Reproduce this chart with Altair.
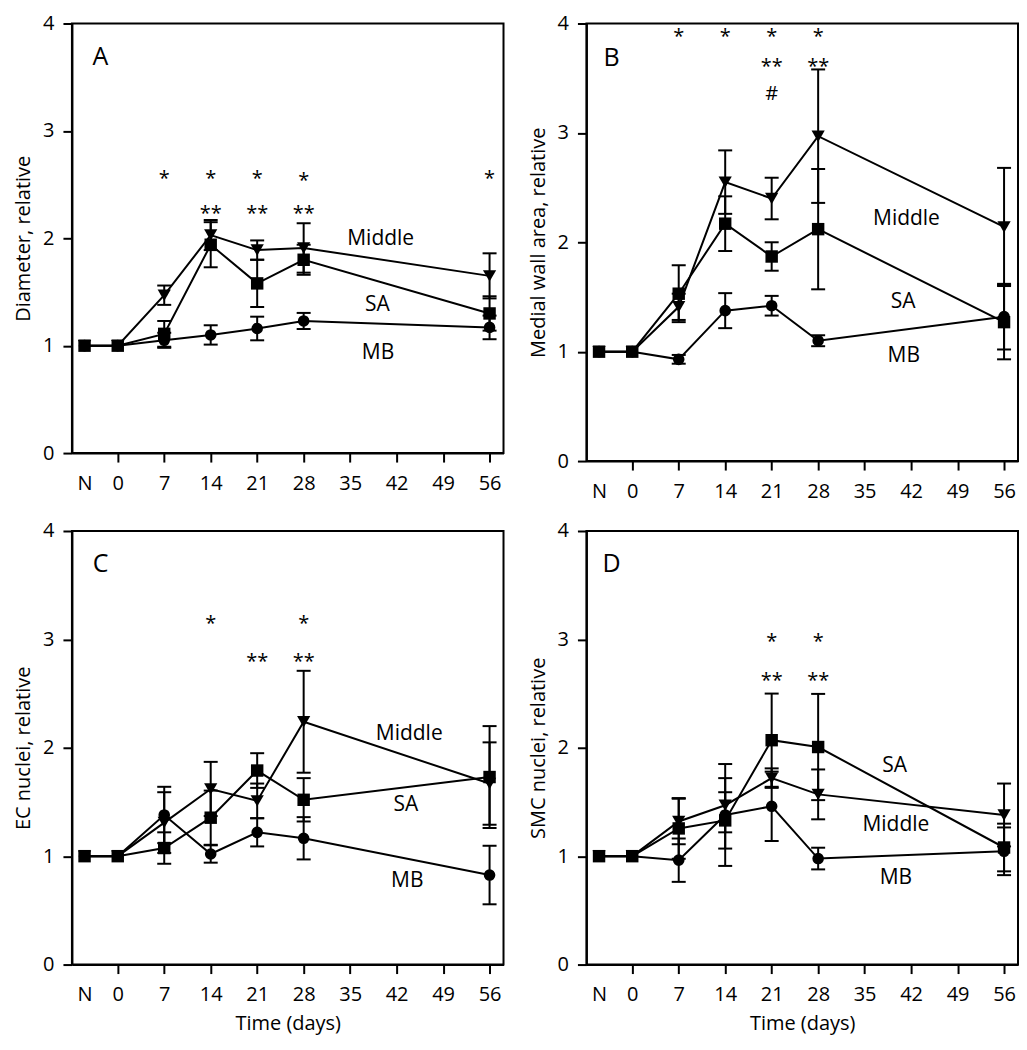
import altair as alt
import pandas as pd

# ---------------- data ----------------
X_DAYS = [-5, 0, 7, 14, 21, 28, 56]            # "N" (normal) is drawn at day -5
TICK_VALUES = [-5, 0, 7, 14, 21, 28, 35, 42, 49, 56]
GROUPS = ["Middle", "SA", "MB"]
SHAPES = ["triangle-down", "square", "circle"]
SIZES = [175, 135, 145]

# Panel A - Diameter
A_MID = [1.00, 1.00, 1.47, 2.03, 1.89, 1.91, 1.65]
A_MID_ERR = [0, 0, 0.09, 0.14, 0.09, 0.23, 0.21]
A_SA = [1.00, 1.00, 1.11, 1.94, 1.58, 1.80, 1.30]
A_SA_ERR = [0, 0, 0.12, 0.21, 0.22, 0.14, 0.16]
A_MB = [1.00, 1.00, 1.05, 1.10, 1.16, 1.23, 1.17]
A_MB_ERR = [0, 0, 0.07, 0.09, 0.11, 0.075, 0.11]
A_NOTE_TEXT = ["*", "*", "*", "*", "*", "**", "**", "**"]
A_NOTE_X = [7, 14, 21, 28, 56, 14, 21, 28]
A_NOTE_Y = [2.58, 2.58, 2.58, 2.56, 2.58, 2.25, 2.25, 2.25]
A_LABEL_X = [39.6, 39.1, 39.2]
A_LABEL_Y = [2.00, 1.39, 0.94]

# Panel B - Medial wall area
B_MID = [1.00, 1.00, 1.41, 2.55, 2.40, 2.97, 2.14]
B_MID_ERR = [0, 0, 0.12, 0.29, 0.19, 0.61, 0.54]
B_SA = [1.00, 1.00, 1.53, 2.17, 1.87, 2.12, 1.27]
B_SA_ERR = [0, 0, 0.26, 0.25, 0.13, 0.55, 0.34]
B_MB = [1.00, 1.00, 0.93, 1.375, 1.42, 1.10, 1.32]
B_MB_ERR = [0, 0, 0.04, 0.16, 0.09, 0.05, 0.30]
B_NOTE_TEXT = ["*", "*", "*", "*", "**", "**", "#"]
B_NOTE_X = [7, 14, 21, 28, 21, 28, 21]
B_NOTE_Y = [3.90, 3.90, 3.90, 3.90, 3.63, 3.63, 3.36]
B_LABEL_X = [41.3, 40.8, 40.9]
B_LABEL_Y = [2.22, 1.46, 0.965]

# Panel C - EC nuclei
C_MID = [1.00, 1.00, 1.31, 1.62, 1.51, 2.24, 1.67]
C_MID_ERR = [0, 0, 0.28, 0.25, 0.16, 0.47, 0.38]
C_SA = [1.00, 1.00, 1.075, 1.355, 1.79, 1.52, 1.73]
C_SA_ERR = [0, 0, 0.145, 0.25, 0.16, 0.20, 0.47]
C_MB = [1.00, 1.00, 1.38, 1.02, 1.22, 1.165, 0.826]
C_MB_ERR = [0, 0, 0.26, 0.08, 0.13, 0.195, 0.27]
C_NOTE_TEXT = ["*", "*", "**", "**"]
C_NOTE_X = [14, 28, 21, 28]
C_NOTE_Y = [3.17, 3.17, 2.82, 2.82]
C_LABEL_X = [43.9, 43.4, 43.6]
C_LABEL_Y = [2.14, 1.48, 0.78]

# Panel D - SMC nuclei
D_MID = [1.00, 1.00, 1.32, 1.47, 1.72, 1.57, 1.38]
D_MID_ERR = [0, 0, 0.21, 0.25, 0.09, 0.23, 0.29]
D_SA = [1.00, 1.00, 1.256, 1.33, 2.07, 2.007, 1.08]
D_SA_ERR = [0, 0, 0.28, 0.26, 0.43, 0.49, 0.22]
D_MB = [1.00, 1.00, 0.963, 1.38, 1.46, 0.978, 1.045]
D_MB_ERR = [0, 0, 0.20, 0.47, 0.32, 0.10, 0.22]
D_NOTE_TEXT = ["*", "*", "**", "**"]
D_NOTE_X = [21, 28, 21, 28]
D_NOTE_Y = [3.00, 3.00, 2.64, 2.64]
D_LABEL_X = [39.7, 39.5, 39.7]
D_LABEL_Y = [1.30, 1.84, 0.81]

PANEL_LETTERS = ["A", "B", "C", "D"]
LETTER_X = [-2.6, -3.1, -2.6, -3.1]
LETTER_Y = [3.70, 3.69, 3.70, 3.70]

FONT = "Open Sans"
X_DOMAIN = [-6.9, 58.1]


def build_panel(idx, ytitle, mid, mid_err, sa, sa_err, mb, mb_err,
                note_text, note_x, note_y, label_x, label_y,
                width, height, xtitle):
    rows = []
    for g, vals, errs in zip(GROUPS, [mid, sa, mb], [mid_err, sa_err, mb_err]):
        for d, v, e in zip(X_DAYS, vals, errs):
            rows.append({"group": g, "day": d, "value": v, "err": e,
                         "lo": v - e, "hi": v + e})
    df = pd.DataFrame(rows)
    df_err = df[df["err"] > 0]

    notes = pd.DataFrame({"text": note_text, "day": note_x, "y": note_y})
    stars = notes[notes["text"].str.contains(r"\*")]
    others = notes[~notes["text"].str.contains(r"\*")]
    labels = pd.DataFrame({"text": GROUPS, "day": label_x, "y": label_y})
    letter = pd.DataFrame({"text": [PANEL_LETTERS[idx]], "day": [LETTER_X[idx]],
                           "y": [LETTER_Y[idx]]})

    xaxis_kwargs = dict(
        values=TICK_VALUES, format="d",
        labelExpr="datum.value < -1 ? 'N' : datum.label",
        tickOpacity={"condition": {"test": "datum.value < -1", "value": 0}, "value": 1},
        tickSize=9, labelPadding=11, labelOverlap=False, labelFlush=False,
        grid=False, titlePadding=9,
    )
    if xtitle:
        xaxis = alt.Axis(title=xtitle, **xaxis_kwargs)
    else:
        xaxis = alt.Axis(title=None, **xaxis_kwargs)
    xscale = alt.Scale(domain=X_DOMAIN, nice=False, zero=False)
    yaxis = alt.Axis(values=[0, 1, 2, 3, 4], format="d", title=ytitle,
                     tickSize=9, labelPadding=9, titlePadding=9, grid=False)
    yscale = alt.Scale(domain=[0, 4], nice=False)

    def X():
        return alt.X("day:Q", scale=xscale, axis=xaxis)

    def Y(field):
        return alt.Y(f"{field}:Q", scale=yscale, axis=yaxis)

    bars = alt.Chart(df_err).mark_rule(color="black", strokeWidth=2).encode(
        x=X(), y=Y("lo"), y2="hi:Q")
    cap_lo = alt.Chart(df_err).mark_tick(orient="horizontal", size=14, thickness=2,
                                         color="black", opacity=1).encode(x=X(), y=Y("lo"))
    cap_hi = alt.Chart(df_err).mark_tick(orient="horizontal", size=14, thickness=2,
                                         color="black", opacity=1).encode(x=X(), y=Y("hi"))
    lines = alt.Chart(df).mark_line(color="black", strokeWidth=2).encode(
        x=X(), y=Y("value"), detail="group:N", order="day:Q")
    pts = alt.Chart(df).mark_point(filled=True, color="black", opacity=1).encode(
        x=X(), y=Y("value"),
        shape=alt.Shape("group:N", scale=alt.Scale(domain=GROUPS, range=SHAPES), legend=None),
        size=alt.Size("group:N", scale=alt.Scale(domain=GROUPS, range=SIZES), legend=None),
    )
    star_txt = alt.Chart(stars).mark_text(font=FONT, fontSize=20, color="black",
                                          baseline="middle", dy=3).encode(
        x=X(), y=Y("y"), text="text:N")
    layers = [bars, cap_lo, cap_hi, lines, pts, star_txt]
    if len(others) > 0:
        layers.append(alt.Chart(others).mark_text(font=FONT, fontSize=20, color="black",
                                                  baseline="middle", dy=1).encode(
            x=X(), y=Y("y"), text="text:N"))
    layers.append(alt.Chart(labels).mark_text(font=FONT, fontSize=21, color="black",
                                              baseline="middle", dy=1).encode(
        x=X(), y=Y("y"), text="text:N"))
    layers.append(alt.Chart(letter).mark_text(font=FONT, fontSize=25, color="black",
                                              baseline="middle", dy=1).encode(
        x=X(), y=Y("y"), text="text:N"))
    return alt.layer(*layers).properties(width=width, height=height)


pA = build_panel(0, "Diameter, relative", A_MID, A_MID_ERR, A_SA, A_SA_ERR, A_MB, A_MB_ERR,
                 A_NOTE_TEXT, A_NOTE_X, A_NOTE_Y, A_LABEL_X, A_LABEL_Y, 432, 430, None)
pB = build_panel(1, "Medial wall area, relative", B_MID, B_MID_ERR, B_SA, B_SA_ERR, B_MB, B_MB_ERR,
                 B_NOTE_TEXT, B_NOTE_X, B_NOTE_Y, B_LABEL_X, B_LABEL_Y, 432, 438, None)
pC = build_panel(2, "EC nuclei, relative", C_MID, C_MID_ERR, C_SA, C_SA_ERR, C_MB, C_MB_ERR,
                 C_NOTE_TEXT, C_NOTE_X, C_NOTE_Y, C_LABEL_X, C_LABEL_Y, 432, 434, "Time (days)")
pD = build_panel(3, "SMC nuclei, relative", D_MID, D_MID_ERR, D_SA, D_SA_ERR, D_MB, D_MB_ERR,
                 D_NOTE_TEXT, D_NOTE_X, D_NOTE_Y, D_LABEL_X, D_LABEL_Y, 432, 434, "Time (days)")

top = alt.hconcat(pA, pB, spacing=22)
bottom = alt.hconcat(pC, pD, spacing=22)

chart = alt.vconcat(top, bottom, spacing=18).properties(
    padding={"left": 4, "top": 4, "right": 0, "bottom": 0}, background="white"
).configure_view(
    stroke="black", strokeWidth=2
).configure_axis(
    domainColor="black", domainWidth=2, tickColor="black", tickWidth=2,
    labelFont=FONT, labelFontSize=20, labelColor="black",
    titleFont=FONT, titleFontSize=20, titleFontWeight="normal", titleColor="black",
)

chart.save("out.html", embed_options={"renderer": "svg", "actions": False})
